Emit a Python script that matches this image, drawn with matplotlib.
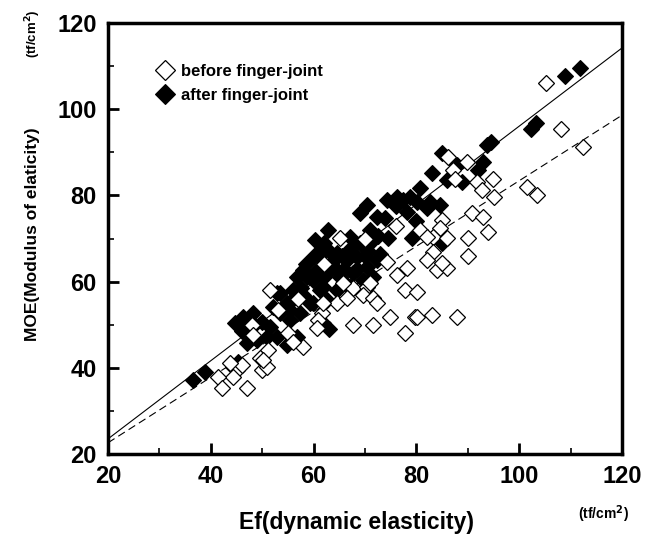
import matplotlib.pyplot as plt
from matplotlib.ticker import MultipleLocator

plt.rcParams['font.family'] = ['Liberation Sans', 'DejaVu Sans']

# before finger-joint (open diamonds)
before_x = [112.4, 105.2, 108.1, 101.5, 103.5, 94.9, 95.1, 91.8, 92.8, 89.8,
            86.1, 87.1, 87.5, 90.8, 93.0, 93.9, 90.0, 90.0, 85.0, 84.6,
            83.2, 80.7, 82.1, 86.0, 83.2, 82.1, 84.0, 86.0, 85.0, 78.2,
            77.8, 80.1, 79.7, 83.0, 87.9, 77.8, 80.1, 76.2, 74.3, 65.1,
            67.7, 70.4, 69.6, 71.6, 72.3, 64.6, 66.5, 67.7, 71.6, 74.9,
            65.7, 71.0, 61.6, 60.9, 61.8, 60.7, 57.9, 55.0, 56.0, 51.5,
            48.0, 48.2, 51.1, 49.6, 50.0, 50.9, 45.1, 46.1, 44.3, 41.4,
            42.2, 47.0, 43.7, 50.2, 70.0, 76.0, 62.0, 57.0, 53.0]
before_y = [91.3, 106.0, 95.5, 82.0, 80.0, 83.9, 79.7, 83.2, 81.3, 87.8,
            88.8, 86.0, 83.9, 76.0, 75.1, 71.6, 70.2, 66.0, 74.4, 72.5,
            70.4, 72.0, 70.4, 70.2, 66.9, 65.1, 62.7, 63.2, 64.4, 63.2,
            58.1, 57.6, 51.8, 52.3, 51.8, 48.1, 51.8, 61.6, 64.6, 70.2,
            58.6, 58.8, 56.9, 56.2, 55.1, 55.1, 56.2, 50.0, 50.0, 51.8,
            59.7, 59.7, 52.8, 51.1, 55.1, 49.3, 44.9, 48.1, 46.0, 58.1,
            50.0, 47.6, 44.2, 42.3, 39.5, 40.2, 39.5, 40.7, 37.9, 37.9,
            35.3, 35.3, 41.1, 41.8, 70.0, 73.0, 64.0, 56.0, 53.5]

# after finger-joint (filled diamonds)
after_x = [111.8, 109.0, 102.3, 103.2, 93.8, 94.5, 93.0, 85.0, 83.0, 86.0,
           88.9, 80.7, 78.8, 77.4, 80.1, 82.6, 84.6, 78.2, 79.1, 85.0,
           76.2, 74.3, 70.4, 69.0, 72.3, 73.9, 62.8, 60.3, 61.6, 67.1,
           69.0, 71.6, 74.5, 64.6, 66.5, 68.4, 70.4, 72.3, 63.2, 65.1,
           67.7, 69.6, 71.6, 57.9, 56.8, 59.8, 61.8, 64.6, 67.1, 59.9,
           52.9, 36.5, 38.9, 44.7, 46.3, 48.2, 50.0, 51.5, 50.9, 49.0,
           47.0, 44.3, 45.3, 53.5, 54.8, 52.1, 53.5, 56.0, 55.4, 57.4,
           59.3, 54.8, 56.8, 52.9, 58.7, 61.2, 62.6, 61.8, 63.0, 60.0,
           63.5, 66.0, 70.5, 73.0, 92.0, 58.5, 60.5, 62.0, 64.0, 65.5,
           67.0, 66.0, 68.5, 70.0, 71.0, 72.5, 62.0, 61.0, 63.0, 56.0,
           57.5, 55.5, 58.0, 48.5, 46.0, 80.0, 82.0, 76.0, 88.0]
after_y = [109.6, 107.8, 95.5, 96.8, 91.8, 92.3, 87.8, 89.9, 85.3, 83.6,
           83.2, 81.8, 79.7, 79.0, 78.5, 78.5, 77.8, 76.2, 70.2, 69.0,
           79.7, 79.0, 77.8, 76.0, 75.1, 74.8, 72.0, 69.7, 67.9, 70.4,
           69.0, 69.7, 70.2, 66.7, 65.1, 65.8, 63.4, 65.1, 62.7, 61.1,
           62.0, 60.4, 61.1, 62.7, 61.1, 60.4, 58.8, 58.1, 58.8, 55.1,
           57.4, 37.2, 39.0, 50.4, 51.8, 52.8, 50.7, 49.5, 47.2, 46.5,
           45.8, 40.2, 41.4, 57.4, 55.1, 54.1, 52.8, 58.1, 51.1, 52.8,
           55.1, 45.3, 47.2, 47.2, 61.1, 58.1, 55.8, 50.4, 49.0, 66.0,
           64.5, 63.0, 67.0, 66.5, 86.0, 64.0, 62.5, 61.0, 63.5, 66.0,
           67.5, 60.0, 63.0, 66.0, 72.0, 70.5, 69.0, 66.0, 67.0, 56.0,
           58.5, 53.5, 57.0, 50.0, 48.5, 74.0, 77.0, 77.5, 87.0]

# regression lines (intercept at x=20, slope)
line_x = [20, 120]
after_fit = (23.5, 0.907)
before_fit = (22.6, 0.76)

fig = plt.figure(figsize=(6.56, 5.39), dpi=100)
ax = fig.add_axes([0.1646, 0.1577, 0.7835, 0.7996])

ax.plot(line_x, [after_fit[0] + after_fit[1] * (x - 20) for x in line_x],
        color='black', lw=0.8, zorder=1)
ax.plot(line_x, [before_fit[0] + before_fit[1] * (x - 20) for x in line_x],
        color='black', lw=0.8, dashes=(7, 4), zorder=1)

ax.plot(after_x, after_y, 'D', ms=8.3, mfc='black', mec='black', mew=0.8,
        ls='none', label='after finger-joint', zorder=2)
ax.plot(before_x, before_y, 'D', ms=7.8, mfc='white', mec='black', mew=0.9,
        ls='none', label='before finger-joint', zorder=3)

ax.set_xlim(20, 120)
ax.set_ylim(20, 120)
ax.xaxis.set_major_locator(MultipleLocator(20))
ax.xaxis.set_minor_locator(MultipleLocator(10))
ax.yaxis.set_major_locator(MultipleLocator(20))
ax.yaxis.set_minor_locator(MultipleLocator(10))
ax.tick_params(which='major', direction='in', length=8, width=2, pad=8,
               labelsize=17)
ax.tick_params(which='minor', direction='in', length=4, width=1.2)
for lab in ax.get_xticklabels() + ax.get_yticklabels():
    lab.set_fontweight('bold')
for sp in ax.spines.values():
    sp.set_linewidth(2.5)

h, l = ax.get_legend_handles_labels()
ax.legend(h[::-1], l[::-1], loc='upper left', bbox_to_anchor=(0.065, 0.94),
          frameon=False, handlelength=1.0, handletextpad=0.45,
          labelspacing=0.55, markerscale=1.25,
          prop={'size': 12, 'weight': 'bold'})

fig.text(0.543, 0.03, 'Ef(dynamic elasticity)', ha='center', va='center',
         fontsize=16.5, fontweight='bold')
fig.text(0.92, 0.046, '(tf/cm$^\\mathbf{2}$)', ha='center', va='center',
         fontsize=10, fontweight='bold')
fig.text(0.05, 0.565, 'MOE(Modulus of elaticity)', ha='center', va='center',
         rotation=90, fontsize=12.5, fontweight='bold')
fig.text(0.05, 0.937, '(tf/cm$^\\mathbf{2}$)', ha='center', va='center',
         rotation=90, fontsize=9.5, fontweight='bold')

fig.savefig('out.png', dpi=100)
